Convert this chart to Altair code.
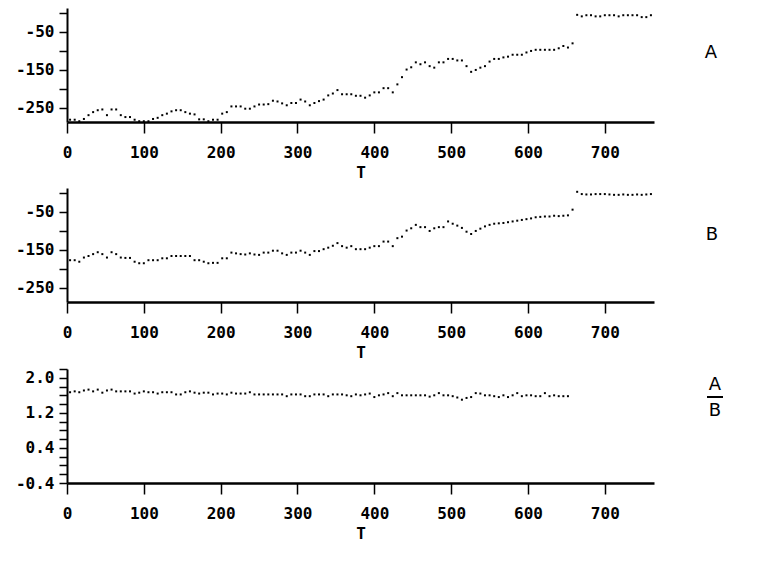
import altair as alt
import pandas as pd

# sampling grid of the series (T)
T_START = 4
T_STEP = 6

# Series A: values before the jump, then after the jump
A_LOW = [-281, -281, -285, -279, -269, -261, -256, -254, -269, -254,
         -254, -269, -274, -274, -281, -285, -285, -285, -279, -276,
         -269, -265, -259, -256, -256, -261, -265, -267, -280, -280,
         -285, -281, -281, -265, -261, -246, -246, -246, -252, -252, -246,
         -241, -241, -240, -231, -233, -238, -243, -237, -237, -228,
         -233, -243, -237, -232, -228, -217, -212, -203, -214, -214,
         -214, -218, -218, -223, -217, -209, -209, -198, -198, -209,
         -188, -169, -149, -143, -130, -135, -130, -140, -144, -130, -130,
         -121, -121, -125, -125, -140, -155, -150, -144, -140, -128,
         -121, -121, -117, -115, -110, -110, -110, -104, -100, -97,
         -97, -97, -97, -97, -93, -87, -91, -80]
A_HIGH = [-5, -9, -6, -6, -9, -9, -6, -6, -6, -9, -6, -6, -6, -6, -11, -11, -6]

# Series B
B_LOW = [-177, -177, -181, -170, -166, -161, -156, -161, -170, -156,
         -161, -170, -171, -171, -181, -185, -185, -177, -177, -177,
         -172, -172, -166, -166, -166, -166, -166, -177, -177, -181,
         -185, -184, -184, -172, -172, -157, -159, -161, -162, -159, -162,
         -163, -157, -157, -152, -152, -159, -163, -157, -157, -152,
         -157, -163, -153, -153, -148, -144, -139, -132, -140, -144,
         -140, -148, -148, -148, -144, -140, -140, -128, -128, -140,
         -119, -115, -99, -93, -84, -90, -90, -100, -93, -90, -90,
         -75, -81, -86, -92, -102, -108, -100, -94, -88, -84,
         -81, -80, -79, -77, -75, -73, -71, -69, -67, -64,
         -63, -62, -62, -60, -61, -60, -59, -44]
B_HIGH = [3, -3, -4, -4, -3, -3, -3, -4, -5, -5, -4, -5, -5, -4, -5, -4, -3]

# Ratio A/B
RATIO = [1.67, 1.69, 1.67, 1.71, 1.73, 1.69, 1.73, 1.66, 1.71, 1.73,
         1.69, 1.69, 1.69, 1.69, 1.64, 1.66, 1.69, 1.67, 1.67, 1.64,
         1.67, 1.67, 1.67, 1.62, 1.62, 1.67, 1.69, 1.66, 1.64, 1.66,
         1.66, 1.62, 1.64, 1.64, 1.62, 1.66, 1.64, 1.64, 1.64, 1.67,
         1.62, 1.62, 1.62, 1.62, 1.62, 1.62, 1.62, 1.58, 1.62, 1.62,
         1.62, 1.58, 1.58, 1.62, 1.62, 1.62, 1.58, 1.62, 1.62, 1.62,
         1.60, 1.58, 1.62,
         1.60, 1.62, 1.64, 1.56, 1.60, 1.62, 1.65, 1.58, 1.65, 1.60,
         1.60, 1.60, 1.60, 1.60, 1.60, 1.57, 1.60, 1.65, 1.60, 1.60,
         1.58, 1.55, 1.50, 1.54, 1.56, 1.65, 1.64, 1.60, 1.60, 1.58,
         1.56, 1.60, 1.56, 1.60, 1.65, 1.58, 1.60, 1.60, 1.58, 1.58,
         1.65, 1.58, 1.60, 1.58, 1.58, 1.58]

X_TICKS = [0, 100, 200, 300, 400, 500, 600, 700]
X_DOMAIN = [0, 764]
AB_TICKS = [0, -50, -100, -150, -200, -250]
AB_DOMAIN = [-287, 13]
R_TICKS = [-0.4, -0.2, 0.0, 0.2, 0.4, 0.6, 0.8, 1.0, 1.2, 1.4, 1.6, 1.8, 2.0, 2.2]
R_DOMAIN = [-0.4, 2.2]

FONT = "DejaVu Sans Mono"
W, H = 587, 114
AX = dict(grid=False, domainColor="black", tickColor="black", tickWidth=1.5,
          labelFont=FONT, labelFontSize=16, labelFontWeight="bold", labelColor="black",
          titleFont=FONT, titleFontSize=16, titleFontWeight="bold", titleColor="black")


def series_df(low, high):
    vals = list(low) + list(high)
    return pd.DataFrame({"T": [T_START + T_STEP * i for i in range(len(vals))], "v": vals})


def x_enc():
    return alt.X("T:Q", scale=alt.Scale(domain=X_DOMAIN, nice=False, zero=False),
                 axis=alt.Axis(values=X_TICKS, title="T", tickSize=11, labelPadding=11,
                               titlePadding=4, domainWidth=2.5, labelFlush=False, **AX))


def panel(df, domain, ticks, label_expr):
    return alt.Chart(df).mark_square(size=4, color="black", opacity=1).encode(
        x=x_enc(),
        y=alt.Y("v:Q", scale=alt.Scale(domain=domain, nice=False, zero=False),
                axis=alt.Axis(values=ticks, labelExpr=label_expr, title=None,
                              tickSize=8, labelPadding=5, domainWidth=2, **AX)),
    )


def label(txt, x, y):
    return alt.Chart(pd.DataFrame({"t": [txt]})).mark_text(
        font="DejaVu Sans", fontSize=18, color="black", align="center", baseline="middle"
    ).encode(x=alt.value(x), y=alt.value(y), text="t:N")


ab_expr = "datum.value % 100 == 0 ? '' : '' + datum.value"
r_expr = ("abs(datum.value - 2.0) < 0.01 ? '2.0' : abs(datum.value - 1.2) < 0.01 ? '1.2' : "
          "abs(datum.value - 0.4) < 0.01 ? '0.4' : abs(datum.value + 0.4) < 0.01 ? '-0.4' : ''")

p1 = alt.layer(panel(series_df(A_LOW, A_HIGH), AB_DOMAIN, AB_TICKS, ab_expr),
               label("A", 644, 45)).properties(width=W, height=H)
p2 = alt.layer(panel(series_df(B_LOW, B_HIGH), AB_DOMAIN, AB_TICKS, ab_expr),
               label("B", 645, 47)).properties(width=W, height=H)

bar = alt.Chart(pd.DataFrame({"a": [0]})).mark_rule(color="black", strokeWidth=2).encode(
    x=alt.value(640), x2=alt.value(656), y=alt.value(28))
p3 = alt.layer(panel(series_df(RATIO, []), R_DOMAIN, R_TICKS, r_expr),
               label("A", 648, 16), bar, label("B", 648, 42)).properties(width=W, height=H)

chart = alt.vconcat(p1, p2, p3, spacing=8).properties(
    padding={"left": 7, "top": 0, "right": 5, "bottom": 5},
    background="white",
).configure_view(strokeWidth=0).configure_axis(**AX)

chart.save("out.html", embed_options={"renderer": "svg", "actions": False})
